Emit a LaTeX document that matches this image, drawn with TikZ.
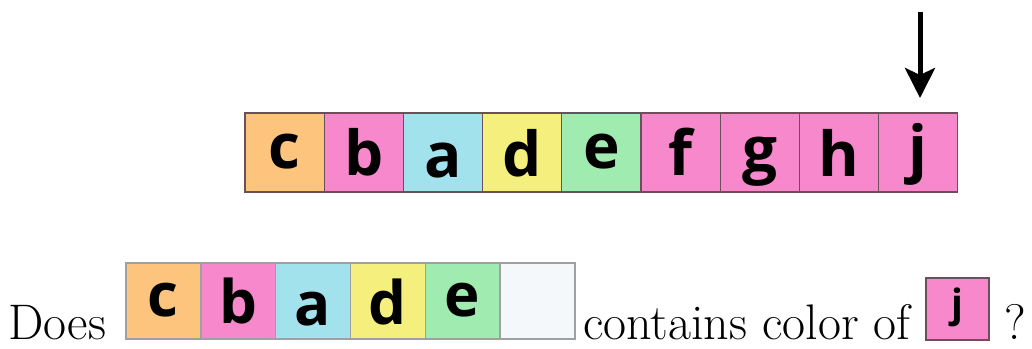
\documentclass[tikz,border=0pt]{standalone}
\usepackage{fontspec}
\newfontfamily\cellfont{Open Sans}
\usepackage{tikz}
\usetikzlibrary{arrows.meta,positioning}
\definecolor{cOrange}{RGB}{252,196,124}
\definecolor{cPink}{RGB}{247,136,204}
\definecolor{cBlue}{RGB}{162,226,236}
\definecolor{cYellow}{RGB}{245,240,126}
\definecolor{cGreen}{RGB}{160,236,176}
\definecolor{cEmpty}{RGB}{245,248,250}
\definecolor{cEdge}{RGB}{105,80,90}
\definecolor{cEdgeLight}{RGB}{160,160,160}

\begin{document}
\begin{tikzpicture}[x=1pt, y=-1pt,
    cell/.style={draw=cEdge, line width=1.2pt, minimum width=79.2pt, minimum height=79pt,
      inner sep=0pt, outer sep=0pt},
    slot/.style={draw=cEdgeLight, line width=1.4pt, minimum width=74.8pt, minimum height=76pt,
      inner sep=0pt, outer sep=0pt},
    letter/.style={inner sep=0pt, anchor=base, font=\cellfont\bfseries\fontsize{62}{62}\selectfont},
    words/.style={inner sep=0pt, anchor=base west, font=\rmfamily\fontsize{50}{60}\selectfont}]
  \useasboundingbox (0,0) rectangle (1032,348);
  % top row
  \foreach \l/\c/\b [count=\i] in {c/cOrange/168, b/cPink/175, a/cBlue/177, d/cYellow/176,
      e/cGreen/168, f/cPink/175, g/cPink/171, h/cPink/176, j/cPink/170}{
    \node[cell, fill=\c] (t\i) at ({284.6+79.2*(\i-1)},152.5) {};
    \node[letter] (tl\i) at (t\i |- 0,\b) {\l};
  }
  % pointer
  \coordinate (ptop) at (920,12);
  \draw[line width=5pt, -{Stealth[length=30pt, width=30pt, inset=7pt]}, shorten >=15pt]
    (ptop) -- (ptop |- t9.north);
  % question line
  \node[words] (does) at (8,339) {Does};
  \foreach \l/\c/\b [count=\i] in {c/cOrange/316, b/cPink/323, a/cBlue/325, d/cYellow/324,
      e/cGreen/316}{
    \node[slot, fill=\c] (b\i) at ({163.4+74.8*(\i-1)},301) {};
    \node[letter, font=\cellfont\bfseries\fontsize{60}{60}\selectfont] (bl\i) at (b\i |- 0,\b) {\l};
  }
  \node[slot, fill=cEmpty] (b6) at ({163.4+74.8*5},301) {};
  \node[words] (ask) at (583,339) {contains color of};
  \node[cell, fill=cPink, minimum width=63pt, minimum height=62pt] (q) at (957.5,309) {};
  \node[letter, font=\cellfont\bfseries\fontsize{39}{39}\selectfont] (ql) at (q |- 0,317.5) {j};
  \node[words] (qm) at (1004,339) {?};
\end{tikzpicture}
\end{document}
